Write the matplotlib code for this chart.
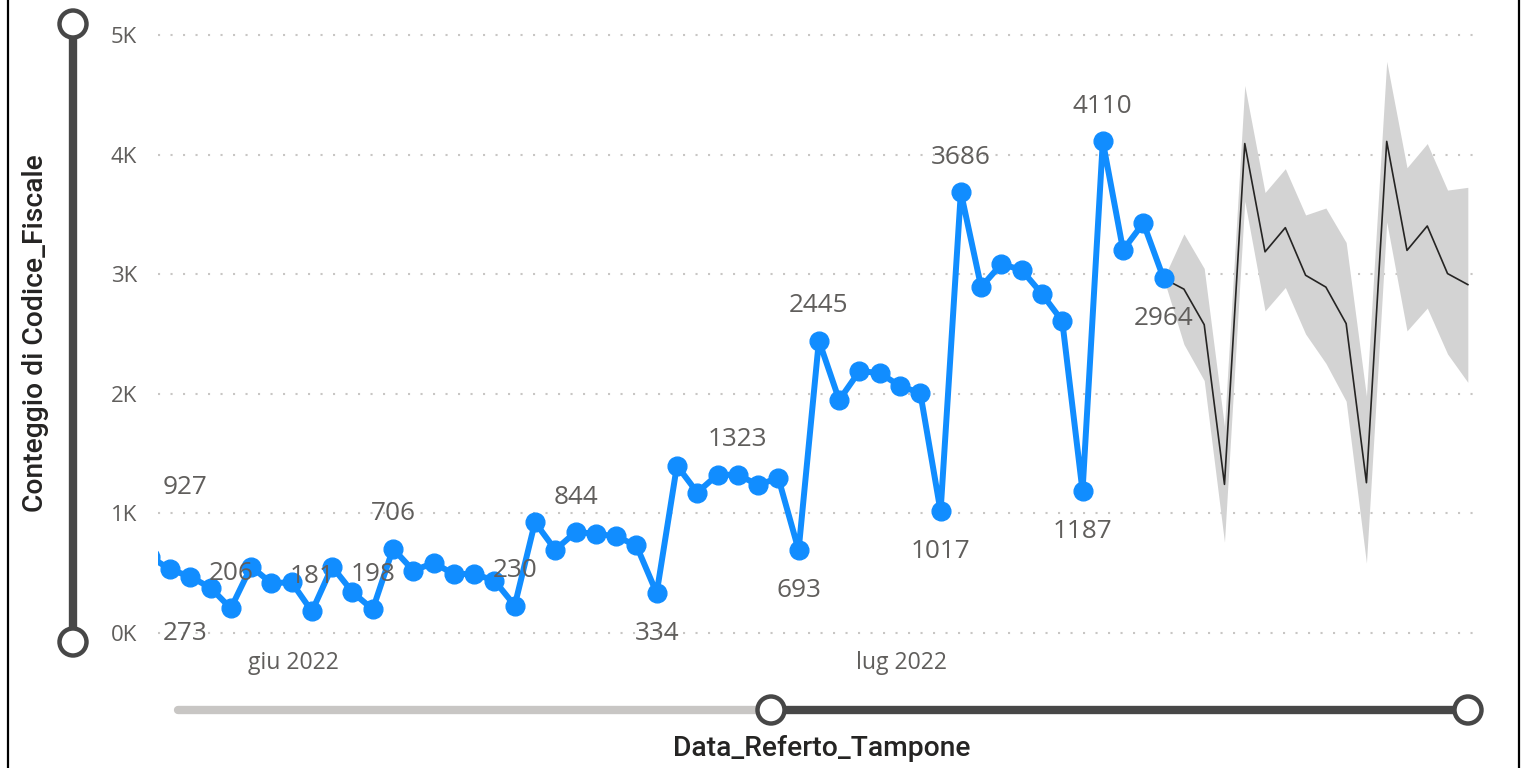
import matplotlib
matplotlib.use("Agg")
import matplotlib.pyplot as plt
from matplotlib.lines import Line2D
from matplotlib.patches import Circle
from matplotlib.ticker import FuncFormatter

# Dati: conteggio giornaliero (indice = giorno), serie osservata
obs_x = list(range(-1, 50))
obs_y = [640, 533, 471, 379, 206, 556, 417, 425, 181, 556, 342, 198, 706, 522, 586,
         494, 494, 439, 230, 927, 696, 844, 831, 808, 732, 334, 1400, 1175, 1324, 1323,
         1239, 1296, 693, 2445, 1948, 2190, 2174, 2065, 2007, 1017, 3686, 2893, 3085,
         3035, 2835, 2609, 1187, 4110, 3202, 3428, 2964]

# Previsione con intervallo di confidenza
fc_x = list(range(49, 65))
fc_mid = [2964, 2875, 2578, 1243, 4092, 3187, 3389, 2991, 2892, 2587, 1257, 4110,
          3199, 3403, 3005, 2913]
fc_upper = [2964, 3337, 3048, 1726, 4577, 3683, 3882, 3495, 3553, 3265, 1980, 4779,
            3890, 4092, 3703, 3726]
fc_lower = [2964, 2414, 2111, 760, 3611, 2693, 2889, 2500, 2255, 1938, 585, 3437,
            2526, 2717, 2333, 2096]

# Etichette dati (indice del punto, testo, sopra/sotto)
lab_idx = [3, 7, 10, 11, 17, 20, 24, 28, 31, 32, 38, 39, 45, 46, 49]
lab_pos = ["up", "up", "up", "up", "up", "up", "down", "up", "down", "up", "down",
           "up", "down", "up", "down"]
# etichette fuori posto, come nell'originale
stray_x = [0.74, 0.74]
stray_y = [1221, 0]
stray_txt = ["927", "273"]

month_pos = [6.07, 36.07]
month_lab = ["giu 2022", "lug 2022"]
yticks = [0, 1000, 2000, 3000, 4000, 5000]

BLUE = "#118DFF"
GREY_TXT = "#605E5C"
DARK = "#252423"
FONT = ["Open Sans", "DejaVu Sans"]

W, H = 1526, 768
fig = plt.figure(figsize=(W / 100, H / 100), dpi=100)
plt.rcParams["font.family"] = FONT

ax = fig.add_axes([158 / W, 128 / H, (1480 - 158) / W, (740 - 128) / H])
ax.set_xlim(-0.59, 64.6)
ax.set_ylim(-58, 5058)

ax.fill_between(fc_x, fc_lower, fc_upper, color="#D3D3D3", lw=0, zorder=1)
ax.plot(fc_x, fc_mid, color=DARK, lw=1.2, zorder=2)
ax.plot(obs_x, obs_y, "-o", color=BLUE, lw=4.3, ms=13.5, zorder=3)

vals = dict(zip(obs_x, obs_y))
for i, p in zip(lab_idx, lab_pos):
    dy = 35 if p == "up" else -40
    ax.annotate(str(vals[i]), (i, vals[i]), xytext=(0, dy), textcoords="offset pixels",
                ha="center", va="center", fontsize=18.8, color=GREY_TXT, zorder=4)
for x, y, t in zip(stray_x, stray_y, stray_txt):
    ax.text(x, y, t, ha="center", va="center", fontsize=18.8, color=GREY_TXT, zorder=4)

ax.set_yticks(yticks)
ax.yaxis.set_major_formatter(FuncFormatter(lambda v, p: f"{int(v / 1000)}K"))
ax.set_xticks(month_pos)
ax.set_xticklabels(month_lab)
ax.tick_params(axis="y", length=0, pad=15, labelsize=16, labelcolor=GREY_TXT)
ax.tick_params(axis="x", length=0, pad=8, labelsize=16.6, labelcolor=GREY_TXT)
ax.grid(axis="y", color="#C8C6C4", lw=1.5, linestyle=(0, (1, 5)))
ax.set_axisbelow(True)
for s in ax.spines.values():
    s.set_visible(False)

# livello sovrapposto in pixel per cornice e slider
ov = fig.add_axes([0, 0, 1, 1], zorder=-1)
ov.set_xlim(0, W)
ov.set_ylim(H, 0)
ov.axis("off")
ov.add_line(Line2D([8, 8], [0, H], color="black", lw=1.6))
ov.add_line(Line2D([1519, 1519], [0, H], color="black", lw=1.6))

SL = "#474747"
ov.add_line(Line2D([73, 73], [24, 642], color=SL, lw=6, solid_capstyle="butt"))
ov.add_line(Line2D([178, 771], [710, 710], color="#C8C6C4", lw=6, solid_capstyle="round"))
ov.add_line(Line2D([771, 1468], [710, 710], color=SL, lw=6, solid_capstyle="butt"))
for cx, cy in [(73, 24), (73, 642), (771, 710), (1468, 710)]:
    ov.add_patch(Circle((cx, cy), 13.5, facecolor="white", edgecolor=SL, lw=3.2, zorder=5))

fig.text(36 / W, 1 - 333 / H, "Conteggio di Codice_Fiscale", rotation=90, ha="center",
         va="center", fontsize=20.3, color=DARK, weight="medium",
         family=["Roboto", "DejaVu Sans"])
fig.text(822 / W, 1 - 748 / H, "Data_Referto_Tampone", ha="center", va="center",
         fontsize=20.3, color=DARK, weight="medium", family=["Roboto", "DejaVu Sans"])

fig.savefig("out.png", dpi=100)
